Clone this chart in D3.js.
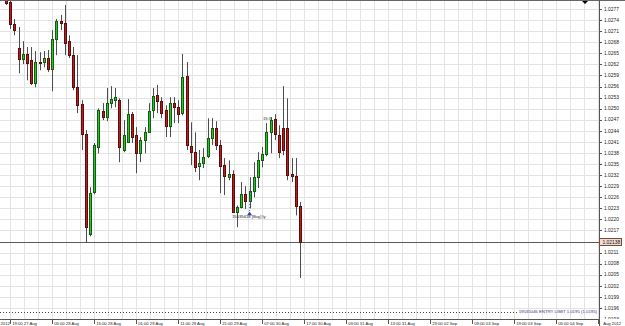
<!DOCTYPE html>
<html>
<head>
<meta charset="utf-8">
<script src="https://cdnjs.cloudflare.com/ajax/libs/d3/7.8.5/d3.min.js"></script>
<style>
  body { margin: 0; background: #fff; }
  text { font-family: "Liberation Sans", Arial, sans-serif; }
</style>
</head>
<body>
<script>
// hourly bars
const open = [1.02794,1.02789,1.02729,1.02664,1.02634,1.02648,1.02631,1.02569,1.02626,1.02626,
  1.02637,1.02607,1.02688,1.02737,1.02732,1.02683,1.02645,1.02558,1.02512,1.02431,
  1.0216,1.02274,1.02396,1.02493,1.02477,1.02515,1.02523,1.02523,1.02388,1.02409,
  1.02485,1.02428,1.02379,1.02415,1.02436,1.02496,1.02537,1.0252,1.02496,1.02453,
  1.02515,1.02504,1.02488,1.02588,1.02398,1.02382,1.02344,1.02352,1.02371,1.0242,
  1.02447,1.02401,1.02347,1.02314,1.02323,1.0222,1.02233,1.02268,1.02249,1.02276,
  1.02314,1.0236,1.02377,1.02436,1.02472,1.02428,1.02447,1.02447,1.02323,1.02317,
  1.02236];
const high = [1.02800,1.02794,1.02743,1.02721,1.02683,1.02667,1.02667,1.02656,1.02653,1.02656,
  1.02659,1.02713,1.02743,1.02754,1.02781,1.02699,1.02667,1.02645,1.02523,1.02442,
  1.02287,1.02407,1.02501,1.02515,1.02556,1.02561,1.02556,1.02528,1.02469,1.02526,
  1.02491,1.0245,1.02423,1.0245,1.02515,1.02556,1.02564,1.02531,1.02509,1.02531,
  1.02531,1.02523,1.02648,1.02626,1.02463,1.02436,1.02388,1.02393,1.02474,1.02474,
  1.02466,1.02415,1.02366,1.0236,1.02333,1.02238,1.02301,1.0229,1.02312,1.02355,
  1.02382,1.02396,1.02461,1.02477,1.02485,1.02455,1.02561,1.02528,1.02366,1.02366,
  1.02247];
const low = [1.02781,1.02716,1.02699,1.02596,1.02621,1.02577,1.02564,1.02558,1.02604,1.02612,
  1.02599,1.02547,1.02645,1.02713,1.02645,1.02637,1.0255,1.02488,1.02388,1.02136,
  1.02154,1.02268,1.02379,1.02469,1.02466,1.02501,1.02504,1.02355,1.02382,1.02407,
  1.02407,1.02325,1.02355,1.02379,1.02434,1.02474,1.02488,1.02474,1.02423,1.02423,
  1.02461,1.02461,1.02482,1.02388,1.02347,1.02328,1.02306,1.02339,1.02366,1.02401,
  1.02388,1.02271,1.02266,1.02306,1.02217,1.02179,1.0223,1.02228,1.0223,1.0226,
  1.02285,1.02341,1.02371,1.02379,1.02415,1.02366,1.02374,1.02306,1.02301,1.02211,
  1.02041];
const close = [1.02786,1.02729,1.02713,1.02634,1.02648,1.02623,1.02569,1.02626,1.02625,1.02637,
  1.02607,1.02688,1.02737,1.02732,1.02678,1.02645,1.02558,1.02509,1.02431,1.02179,
  1.02271,1.02401,1.02496,1.02477,1.02515,1.02526,1.02531,1.02396,1.02428,1.02485,
  1.02423,1.02379,1.02415,1.02436,1.02493,1.02534,1.0252,1.02488,1.02453,1.02515,
  1.02504,1.02485,1.02585,1.02401,1.02382,1.02341,1.02352,1.02369,1.0242,1.02447,
  1.02401,1.02344,1.02317,1.02323,1.0222,1.02233,1.02268,1.02249,1.02276,1.02314,
  1.0236,1.02377,1.02436,1.02469,1.02431,1.02382,1.02388,1.0232,1.02317,1.02236,
  1.02138];

const priceTicks = [1.0277,1.0274,1.0271,1.0268,1.0265,1.0262,1.0259,1.0256,1.0253,1.0250,
  1.0247,1.0244,1.0241,1.0238,1.0235,1.0232,1.0229,1.0226,1.0223,1.0220,1.0217,1.0214,
  1.0211,1.0208,1.0205,1.0202,1.0199,1.0196,1.0193];

const timeTickBars = [1,11,21,31,41,51,61,71,81,91,101,111,121,131,141];
const timeTickLabels = ["19:00 27 Aug","05:00 28 Aug","15:00 28 Aug","01:00 29 Aug","11:00 29 Aug",
  "21:00 29 Aug","07:00 30 Aug","17:00 30 Aug","03:00 31 Aug","13:00 31 Aug","23:00 02 Sep",
  "09:00 03 Sep","19:00 03 Sep","05:00 04 Sep","Aug 2012"];

const bidPrice = 1.02138;
const entryLimit = 1.0195;
const buyBar = 58, buyPrice = 1.02217;

const W = 625, H = 326;
const plotRight = 599, plotBottom = 319;

const bars = open.map((o, i) => ({i: i, o: o, h: high[i], l: low[i], c: close[i]}));

const x = d3.scaleLinear().domain([0, 141]).range([6, 598.2]);
const y = d3.scaleLinear().domain([1.0277, 1.0196]).range([9, 308]);
const px = v => Math.round(v) + 0.5;

const svg = d3.select("body").append("svg").attr("width", W).attr("height", H);
svg.append("rect").attr("width", W).attr("height", H).attr("fill", "#fff");

svg.append("clipPath").attr("id", "plot")
  .append("rect").attr("x", 0).attr("y", 1).attr("width", plotRight).attr("height", plotBottom - 1);
svg.append("clipPath").attr("id", "yax")
  .append("rect").attr("x", plotRight).attr("y", 1).attr("width", W - plotRight).attr("height", plotBottom - 1);

const g = svg.append("g").attr("clip-path", "url(#plot)");

// grid
g.selectAll("line.hg").data(priceTicks).enter().append("line")
  .attr("x1", 0).attr("x2", plotRight)
  .attr("y1", d => px(y(d))).attr("y2", d => px(y(d)))
  .attr("stroke", "#e3e3e3");
const vgrid = d3.range(0, 45).map(k => 1 + k * 10 / 3);
g.selectAll("line.vg").data(vgrid).enter().append("line")
  .attr("x1", d => px(x(d))).attr("x2", d => px(x(d)))
  .attr("y1", 0).attr("y2", plotBottom)
  .attr("stroke", "#e3e3e3");

// bid line
g.append("line").attr("x1", 0).attr("x2", plotRight)
  .attr("y1", px(y(bidPrice))).attr("y2", px(y(bidPrice)))
  .attr("stroke", "#5a5a5a");

// pending order line
g.append("line").attr("x1", 0).attr("x2", 518)
  .attr("y1", px(y(entryLimit))).attr("y2", px(y(entryLimit)))
  .attr("stroke", "#444").attr("stroke-dasharray", "1,2");
g.append("text").attr("x", 597).attr("y", y(entryLimit) + 1.5)
  .attr("text-anchor", "end").attr("font-size", 4.3).attr("fill", "#33338a")
  .text("19535046 ENTRY LIMIT 1.0195 (1.0195)");

// candles
g.selectAll("line.wick").data(bars).enter().append("line")
  .attr("x1", d => px(x(d.i))).attr("x2", d => px(x(d.i)))
  .attr("y1", d => y(d.h)).attr("y2", d => y(d.l))
  .attr("stroke", "#4d4d4d");
g.selectAll("rect.body").data(bars).enter().append("rect")
  .attr("x", d => Math.round(x(d.i)) - 0.5)
  .attr("width", 2)
  .attr("y", d => Math.round(y(Math.max(d.o, d.c))) + 0.5)
  .attr("height", d => Math.max(1, Math.round(y(Math.min(d.o, d.c))) - Math.round(y(Math.max(d.o, d.c)))))
  .attr("fill", d => d.c > d.o ? "#2fbf2f" : "#b41e1e")
  .attr("stroke", d => d.c > d.o ? "#0f5f0f" : "#5e0c0c");

// trade marks
const bx = x(buyBar);
g.append("line").attr("x1", bx).attr("x2", bx + 1)
  .attr("y1", y(buyPrice) - 2).attr("y2", y(1.02316))
  .attr("stroke", "#3050c0").attr("stroke-dasharray", "1,2");
g.append("path")
  .attr("d", `M${bx - 2.5},${y(buyPrice) + 2}L${bx + 2.5},${y(buyPrice) + 2}L${bx},${y(buyPrice) - 1.5}Z`)
  .attr("fill", "#2040b0");
g.append("text").attr("x", 232).attr("y", y(buyPrice) + 5)
  .attr("font-size", 4.2).attr("fill", "#222").text("15535618 [Buy] ly");
g.append("text").attr("x", 263).attr("y", y(1.02469))
  .attr("font-size", 4.2).attr("fill", "#222").text("15:3");

// frame
svg.append("line").attr("x1", 0).attr("x2", W).attr("y1", 0.5).attr("y2", 0.5).attr("stroke", "#666");
svg.append("line").attr("x1", plotRight + 0.5).attr("x2", plotRight + 0.5).attr("y1", 0).attr("y2", H).attr("stroke", "#555");
svg.append("line").attr("x1", 0).attr("x2", plotRight).attr("y1", plotBottom + 0.5).attr("y2", plotBottom + 0.5).attr("stroke", "#555");
svg.append("path").attr("d", "M582,1L588,1L585,4Z").attr("fill", "#000");

// price axis
const ya = svg.append("g").attr("clip-path", "url(#yax)");
ya.selectAll("line.yt").data(priceTicks).enter().append("line")
  .attr("x1", plotRight).attr("x2", plotRight + 3)
  .attr("y1", d => px(y(d))).attr("y2", d => px(y(d)))
  .attr("stroke", "#555");
ya.selectAll("text.yl").data(priceTicks).enter().append("text")
  .attr("x", 604).attr("y", d => y(d) + 1.7)
  .attr("font-size", 4.9).attr("fill", "#222")
  .text(d => d.toFixed(4));

const by = Math.round(y(bidPrice));
svg.append("rect").attr("x", plotRight + 0.5).attr("y", by - 3.5).attr("width", 22).attr("height", 7)
  .attr("fill", "#f2dcd2").attr("stroke", "#7a4a3a");
svg.append("text").attr("x", 602.5).attr("y", by + 1.8)
  .attr("font-size", 4.9).attr("fill", "#111").text(bidPrice.toFixed(5));

// time axis
svg.selectAll("line.xt").data(timeTickBars).enter().append("line")
  .attr("x1", d => px(x(d))).attr("x2", d => px(x(d)))
  .attr("y1", plotBottom).attr("y2", plotBottom + 5)
  .attr("stroke", "#555");
svg.selectAll("text.xl").data(timeTickBars).enter().append("text")
  .attr("x", (d, i) => x(d) + (i === timeTickBars.length - 1 ? 5 : 2))
  .attr("y", 324.5)
  .attr("font-size", 4.2).attr("fill", "#222")
  .text((d, i) => timeTickLabels[i]);
svg.append("text").attr("x", 0.5).attr("y", 324.5)
  .attr("font-size", 4.2).attr("fill", "#222").text("2012");
</script>
</body>
</html>
